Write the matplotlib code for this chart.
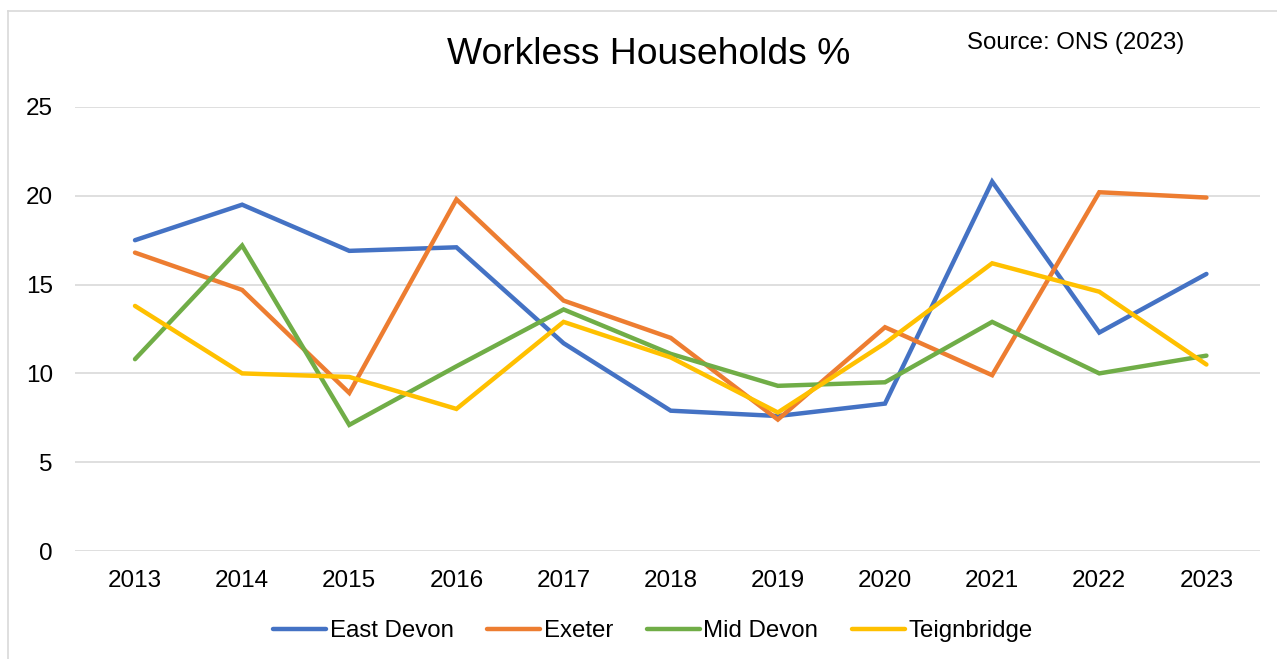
import matplotlib.pyplot as plt
from matplotlib.lines import Line2D

plt.rcParams['font.family'] = ['Liberation Sans', 'DejaVu Sans']

years = ['2013', '2014', '2015', '2016', '2017', '2018', '2019', '2020', '2021', '2022', '2023']
east_devon = [17.5, 19.5, 16.9, 17.1, 11.7, 7.9, 7.6, 8.3, 20.8, 12.3, 15.6]
exeter = [16.8, 14.7, 8.9, 19.8, 14.1, 12.0, 7.4, 12.6, 9.9, 20.2, 19.9]
mid_devon = [10.8, 17.2, 7.1, 10.4, 13.6, 11.1, 9.3, 9.5, 12.9, 10.0, 11.0]
teignbridge = [13.8, 10.0, 9.8, 8.0, 12.9, 10.9, 7.8, 11.7, 16.2, 14.6, 10.5]

series = [
    ('East Devon', east_devon, '#4472C4'),
    ('Exeter', exeter, '#ED7D31'),
    ('Mid Devon', mid_devon, '#70AD47'),
    ('Teignbridge', teignbridge, '#FFC000'),
]

fig = plt.figure(figsize=(12.77, 6.59), dpi=100)
ax = fig.add_axes([75 / 1277, 1 - 551 / 659, (1260 - 75) / 1277, (551 - 107) / 659])

x = range(len(years))
for name, vals, col in series:
    ax.plot(x, vals, color=col, lw=3.2, label=name, solid_capstyle='round', solid_joinstyle='miter', zorder=3)

ax.set_xlim(-0.56, 10.5)
ax.set_ylim(0, 25)
ax.set_yticks([0, 5, 10, 15, 20, 25])
ax.set_xticks(list(x))
ax.set_xticklabels(years)
ax.grid(axis='y', color='#D9D9D9', lw=1.2, zorder=0)
ax.tick_params(axis='both', length=0, labelsize=17.5)
ax.tick_params(axis='y', pad=16)
ax.tick_params(axis='x', pad=14)
for s in ax.spines.values():
    s.set_visible(False)

fig.text(649 / 1277, 1 - 54 / 659, 'Workless Households %', ha='center', va='center', fontsize=26.8)
fig.text(1076 / 1277, 1 - 43 / 659, 'Source: ONS (2023)', ha='center', va='center', fontsize=17.3)

# chart frame, only top and left edges visible
fig.add_artist(Line2D([8 / 1277, 8 / 1277], [0, 1 - 11 / 659], color='#D9D9D9', lw=1.2))
fig.add_artist(Line2D([8 / 1277, 1], [1 - 11 / 659, 1 - 11 / 659], color='#D9D9D9', lw=1.2))

fig.legend(loc='center', bbox_to_anchor=(653 / 1277, 1 - 631 / 659), ncol=4, frameon=False,
           fontsize=17.3, handlelength=2.2, handletextpad=0.15, columnspacing=1.4)

fig.savefig('out.png', dpi=100)
